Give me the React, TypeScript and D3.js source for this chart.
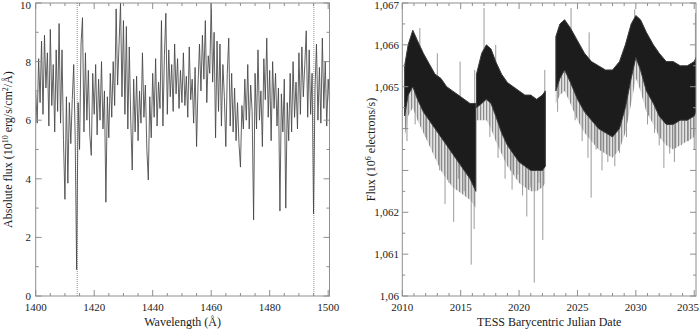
import * as d3 from "d3";

// ---- left panel: spectrum (0.5 Å grid from 1400) ----
const SPEC_START = 1400;
const SPEC_STEP = 0.5;
const specFlux = [
  7.0, 5.9, 8.1, 6.6, 8.7, 6.2, 8.9, 7.1, 8.3, 5.8,
  9.1, 6.5, 7.9, 5.6, 8.4, 6.3, 9.3, 5.9, 8.4, 5.3,
  3.3, 6.8, 3.85, 6.6, 5.2, 6.7, 7.9, 5.4, 0.9, 6.6,
  5.0, 8.6, 9.5, 5.6, 8.3, 6.0, 7.7, 5.5, 4.8, 7.6,
  6.2, 7.9, 5.5, 7.4, 6.0, 8.0, 5.7, 7.0, 3.2, 6.8,
  5.4, 7.6, 6.1, 8.0, 6.5, 9.8, 7.2, 8.6, 10.0, 6.8,
  9.4, 6.2, 9.2, 5.7, 8.5, 6.0, 4.3, 7.4, 5.6, 7.5,
  5.3, 7.0, 5.9, 8.3, 6.1, 7.2, 5.0, 3.96, 6.8, 5.4,
  7.6, 6.1, 8.1, 5.8, 7.3, 6.4, 9.4, 5.8, 8.2, 9.65,
  6.2, 8.4, 6.8, 7.9, 6.3, 8.6, 6.9, 8.1, 6.4, 7.7,
  6.6, 8.3, 6.5, 7.5, 6.1, 8.5, 6.7, 7.4, 5.9, 7.8,
  5.1, 7.2, 8.6, 7.0, 8.9, 7.4, 9.4, 6.6, 8.2, 7.6,
  10.0, 7.3, 9.0, 5.4, 8.7, 6.3, 8.6, 5.8, 7.9, 6.8,
  5.1, 7.6, 8.8, 5.8, 7.6, 5.6, 7.1, 5.3, 6.6, 5.2,
  4.4, 6.5, 5.7, 7.4, 6.0, 7.9, 5.7, 7.2, 6.3, 2.6,
  7.6, 5.7, 8.4, 6.0, 7.0, 5.1, 8.1, 6.7, 8.8, 6.1,
  7.7, 5.3, 8.0, 6.4, 7.6, 5.8, 7.1, 2.9, 6.9, 5.6,
  7.4, 3.0, 6.6, 5.3, 7.6, 5.6, 8.0, 6.1, 7.3, 5.7,
  8.3, 6.2, 8.5, 6.8, 7.9, 9.05, 6.1, 8.4, 6.2, 7.6,
  2.8, 7.1, 8.6, 6.0, 7.8, 5.9, 8.8, 6.4, 8.0, 5.8,
  7.4, 6.5,
];
const specMarkers = [1414.2, 1495.1];

// ---- right panel: TESS light curve, envelope of the dense band + outliers ----
const segATime = [2010.2, 2010.5, 2010.9, 2011.3, 2011.8, 2012.3, 2012.8, 2013.3, 2013.8, 2014.3, 2014.8, 2015.3, 2015.8, 2016.3];
const segATop = [1.0655, 1.066, 1.06635, 1.0661, 1.0658, 1.06555, 1.0653, 1.0652, 1.065, 1.0649, 1.0648, 1.0647, 1.0646, 1.0646];
const segABot = [1.0643, 1.0648, 1.065, 1.0647, 1.0644, 1.0642, 1.064, 1.0638, 1.0636, 1.0634, 1.0632, 1.063, 1.0628, 1.0625];
const segAGray = [1.0638, 1.0643, 1.0645, 1.0642, 1.0639, 1.0636, 1.0633, 1.063, 1.0628, 1.0626, 1.0625, 1.0624, 1.0623, 1.0621];

const segBTime = [2016.35, 2016.8, 2017.2, 2017.6, 2018.0, 2018.5, 2019.0, 2019.5, 2020.0, 2020.5, 2021.0, 2021.5, 2022.0, 2022.25];
const segBTop = [1.0653, 1.0658, 1.066, 1.0659, 1.0656, 1.0653, 1.0651, 1.065, 1.0649, 1.0648, 1.0648, 1.0647, 1.0648, 1.0649];
const segBBot = [1.0645, 1.0646, 1.0647, 1.0646, 1.0643, 1.0639, 1.0636, 1.0634, 1.0632, 1.0631, 1.063, 1.063, 1.063, 1.0631];
const segBGray = [1.0642, 1.0642, 1.0642, 1.064, 1.0637, 1.0634, 1.0631, 1.0629, 1.0627, 1.0626, 1.0625, 1.0625, 1.0626, 1.0627];

const segCTime = [2023.15, 2023.5, 2023.9, 2024.4, 2025.0, 2025.6, 2026.2, 2026.8, 2027.4, 2028.0, 2028.6, 2029.1, 2029.6, 2030.0, 2030.4, 2030.9, 2031.5, 2032.0, 2032.6, 2033.2, 2033.8, 2034.4, 2035.0, 2035.15];
const segCTop = [1.0662, 1.0665, 1.0666, 1.0664, 1.0661, 1.0658, 1.0656, 1.0655, 1.0654, 1.0654, 1.0656, 1.066, 1.0665, 1.0667, 1.0666, 1.0663, 1.066, 1.0658, 1.0656, 1.0656, 1.0655, 1.0655, 1.0656, 1.0657];
const segCBot = [1.0649, 1.0652, 1.0654, 1.0651, 1.0647, 1.0644, 1.0642, 1.064, 1.0639, 1.0638, 1.064, 1.0645, 1.0652, 1.0657, 1.0654, 1.0649, 1.0646, 1.0643, 1.0641, 1.0641, 1.0642, 1.0642, 1.0643, 1.0644];
const segCGray = [1.0646, 1.0648, 1.0649, 1.0646, 1.0642, 1.0639, 1.0637, 1.0635, 1.0634, 1.0633, 1.0635, 1.0639, 1.0646, 1.0652, 1.0649, 1.0644, 1.0641, 1.0638, 1.0636, 1.0635, 1.0636, 1.0637, 1.0638, 1.0639];

const spikeTime = [
  2010.4, 2011.1, 2011.5, 2012.0, 2012.6, 2013.0, 2013.2, 2013.66, 2014.0, 2014.4, 2014.8, 2014.95, 2015.3, 2015.6, 2015.9, 2016.15, 2016.2,
  2017.0, 2017.5, 2018.0, 2018.2, 2018.8, 2019.4, 2019.9, 2020.3, 2020.66, 2021.0, 2021.3, 2021.7, 2022.03, 2022.2,
  2023.3, 2024.45, 2024.8, 2025.4, 2025.9, 2026.0, 2026.17, 2026.6, 2027.1, 2027.6, 2028.2, 2028.6, 2029.2, 2029.9,
  2031.0, 2031.6, 2032.0, 2032.4, 2032.9, 2033.3, 2033.9, 2034.5, 2035.0, 2035.1,
];
const spikeFlux = [
  1.0637, 1.0641, 1.0664, 1.0638, 1.0635, 1.0658, 1.063, 1.0622, 1.0627, 1.06177, 1.0628, 1.0656, 1.0625, 1.063, 1.06075, 1.0616, 1.0654,
  1.06688, 1.0638, 1.066, 1.0633, 1.0628, 1.06254, 1.0629, 1.0624, 1.0619, 1.0626, 1.06032, 1.0627, 1.06134, 1.0654,
  1.0644, 1.06688, 1.0642, 1.0637, 1.0633, 1.0663, 1.06235, 1.0635, 1.063, 1.0632, 1.0631, 1.06342, 1.0638, 1.06685,
  1.0641, 1.0639, 1.0636, 1.06306, 1.0634, 1.0632, 1.0636, 1.0637, 1.0635, 1.06676,
];

// labelled ticks on the flux axis (1,063 and 1,064 carry no label in the original)
const lcLabelled = [1.06, 1.061, 1.062, 1.065, 1.066, 1.067];

const TOP = 3;
const BOTTOM = 296;
const AXIS = "#8e8e8e";
const INK = "#1c1c1c";
const FONT = "'Liberation Serif', 'Times New Roman', serif";

const commaFmt = d3.formatLocale({ decimal: ",", thousands: ".", grouping: [3], currency: ["", ""] }).format(".4~f");

function Frame({ x, y, xMajor, xMinor, yMajor, yMinor, children }) {
  const [x0, x1] = x.range();
  return (
    <g>
      <rect x={x0} y={TOP} width={x1 - x0} height={BOTTOM - TOP} fill="none" stroke={AXIS} strokeWidth={1} />
      {xMajor.map((v) => (
        <g key={"xM" + v}>
          <line x1={x(v)} x2={x(v)} y1={BOTTOM} y2={BOTTOM - 6} stroke={AXIS} />
          <line x1={x(v)} x2={x(v)} y1={TOP} y2={TOP + 6} stroke={AXIS} />
        </g>
      ))}
      {xMinor.map((v) => (
        <g key={"xm" + v}>
          <line x1={x(v)} x2={x(v)} y1={BOTTOM} y2={BOTTOM - 3} stroke={AXIS} />
          <line x1={x(v)} x2={x(v)} y1={TOP} y2={TOP + 3} stroke={AXIS} />
        </g>
      ))}
      {yMajor.map((v) => (
        <g key={"yM" + v}>
          <line x1={x0} x2={x0 + 6} y1={y(v)} y2={y(v)} stroke={AXIS} />
          <line x1={x1} x2={x1 - 6} y1={y(v)} y2={y(v)} stroke={AXIS} />
        </g>
      ))}
      {yMinor.map((v) => (
        <g key={"ym" + v}>
          <line x1={x0} x2={x0 + 3} y1={y(v)} y2={y(v)} stroke={AXIS} />
          <line x1={x1} x2={x1 - 3} y1={y(v)} y2={y(v)} stroke={AXIS} />
        </g>
      ))}
      {children}
    </g>
  );
}

export default function App() {
  // left scales
  const specX = d3.scaleLinear().domain([1400, 1500.45]).range([35.7, 329.5]);
  const specY = d3.scaleLinear().domain([0, 10]).range([BOTTOM, TOP]);
  // right scales
  const lcX = d3.scaleLinear().domain([2010, 2035.15]).range([402.3, 696]);
  const lcY = d3.scaleLinear().domain([1.06, 1.067]).range([BOTTOM, TOP]);

  const specLine = d3
    .line<number>()
    .x((_, i) => specX(SPEC_START + i * SPEC_STEP))
    .y((d) => specY(d));

  const segments = [
    [segATime, segATop, segABot, segAGray],
    [segBTime, segBTop, segBBot, segBGray],
    [segCTime, segCTop, segCBot, segCGray],
  ];
  const area = (ts, lo, hi) =>
    d3
      .area<number>()
      .x((t) => lcX(t))
      .y0((_, i) => lcY(lo[i]))
      .y1((_, i) => lcY(hi[i]))(ts) ?? "";

  // where a spike starts: the middle of the band at its time
  const bandMid = (t) => {
    for (const [ts, top, bot] of segments) {
      if (t >= ts[0] - 0.05 && t <= ts[ts.length - 1] + 0.05) {
        const mid = ts.map((_, i) => (top[i] + bot[i]) / 2);
        return d3.scaleLinear().domain(ts).range(mid).clamp(true)(t);
      }
    }
    return 1.065;
  };

  const specXMajor = d3.range(1400, 1501, 20);
  const specXMinor = d3.range(1405, 1501, 5).filter((v) => v % 20 !== 0);
  const specYMajor = d3.range(0, 10.1, 2);
  const specYMinor = d3.range(1, 10, 2);

  const lcXMajor = d3.range(2010, 2036, 5);
  const lcXMinor = d3.range(2011, 2036, 1).filter((v) => v % 5 !== 0);
  const lcYMajor = d3.range(0, 8).map((i) => 1.06 + i * 0.001);
  const lcYMinor = d3.range(0, 7).map((i) => 1.0605 + i * 0.001);

  const labelStyle = { fontFamily: FONT, fontSize: 11, fill: "#1a1a1a" };
  const titleStyle = { fontFamily: FONT, fontSize: 12, fill: "#1a1a1a" };
  // keep the topmost y label inside the picture
  const yLabelPos = (py) => Math.max(py + 4, 9);

  return (
    <svg width={700} height={329} style={{ position: "absolute", left: 0, top: 0, background: "#fff" }}>
      <defs>
        <clipPath id="clipSpec">
          <rect x={specX.range()[0]} y={TOP} width={specX.range()[1] - specX.range()[0]} height={BOTTOM - TOP} />
        </clipPath>
        <clipPath id="clipLc">
          <rect x={lcX.range()[0]} y={TOP} width={lcX.range()[1] - lcX.range()[0]} height={BOTTOM - TOP} />
        </clipPath>
        {/* streaky fill for the scatter just below the dense band */}
        <pattern id="streaks" width={3} height={6} patternUnits="userSpaceOnUse">
          <rect width={3} height={6} fill="#e2e2e2" />
          <rect width={1.2} height={6} fill="#8a8a8a" />
        </pattern>
      </defs>

      {/* ---------- spectrum ---------- */}
      <g clipPath="url(#clipSpec)">
        {specMarkers.map((w) => (
          <line key={w} x1={specX(w)} x2={specX(w)} y1={TOP} y2={BOTTOM} stroke="#777" strokeWidth={0.8} strokeDasharray="1,1" />
        ))}
        <path d={specLine(specFlux) ?? ""} fill="none" stroke="#444" strokeWidth={0.85} strokeLinejoin="round" />
      </g>
      <Frame x={specX} y={specY} xMajor={specXMajor} xMinor={specXMinor} yMajor={specYMajor} yMinor={specYMinor}>
        {specXMajor.map((v) => (
          <text key={v} x={specX(v)} y={311} textAnchor="middle" style={labelStyle}>
            {v}
          </text>
        ))}
        <text x={(specX.range()[0] + specX.range()[1]) / 2} y={326} textAnchor="middle" style={titleStyle}>
          Wavelength (Å)
        </text>
        {specYMajor.map((v) => (
          <text key={v} x={31} y={yLabelPos(specY(v))} textAnchor="end" style={labelStyle}>
            {v}
          </text>
        ))}
        <text transform={`translate(12,${(TOP + BOTTOM) / 2}) rotate(-90)`} textAnchor="middle" style={titleStyle}>
          Absolute flux (10
          <tspan dy={-4} fontSize={8}>10</tspan>
          <tspan dy={4}> erg/s/cm</tspan>
          <tspan dy={-4} fontSize={8}>2</tspan>
          <tspan dy={4}>/Å)</tspan>
        </text>
      </Frame>

      {/* ---------- light curve ---------- */}
      <g clipPath="url(#clipLc)">
        {segments.map(([ts, top, bot, gray], k) => (
          <path key={"g" + k} d={area(ts, gray, bot)} fill="url(#streaks)" />
        ))}
        {spikeTime.map((t, i) => (
          <line
            key={"s" + i}
            x1={lcX(t)}
            x2={lcX(t)}
            y1={lcY(bandMid(t))}
            y2={lcY(spikeFlux[i])}
            stroke="#9a9a9a"
            strokeWidth={1}
          />
        ))}
        {segments.map(([ts, top, bot], k) => (
          <path key={"b" + k} d={area(ts, bot, top)} fill={INK} stroke="#3a3a3a" strokeWidth={1} />
        ))}
      </g>
      <Frame x={lcX} y={lcY} xMajor={lcXMajor} xMinor={lcXMinor} yMajor={lcYMajor} yMinor={lcYMinor}>
        {lcXMajor.map((v) => {
          const px = lcX(v);
          const atEdge = px + 12 > 699;
          return (
            <text key={v} x={atEdge ? 699 : px} y={311} textAnchor={atEdge ? "end" : "middle"} style={labelStyle}>
              {v}
            </text>
          );
        })}
        <text x={(lcX.range()[0] + lcX.range()[1]) / 2} y={326} textAnchor="middle" style={titleStyle}>
          TESS Barycentric Julian Date
        </text>
        {lcLabelled.map((v) => (
          <text key={v} x={399} y={yLabelPos(lcY(v))} textAnchor="end" style={labelStyle}>
            {commaFmt(v)}
          </text>
        ))}
        <text transform={`translate(375,${(TOP + BOTTOM) / 2}) rotate(-90)`} textAnchor="middle" style={titleStyle}>
          Flux (10
          <tspan dy={-4} fontSize={8}>6</tspan>
          <tspan dy={4}> electrons/s)</tspan>
        </text>
      </Frame>
    </svg>
  );
}
